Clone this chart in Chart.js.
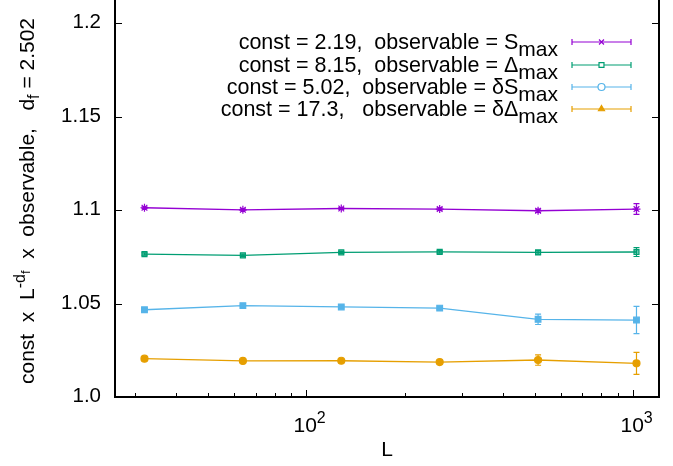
<!DOCTYPE html>
<html><head><meta charset="utf-8">
<script src="https://cdn.jsdelivr.net/npm/chart.js@4/dist/chart.umd.min.js"></script>
<style>html,body{margin:0;padding:0;background:#fff}</style>
</head><body>
<canvas id="c" width="673" height="466"></canvas>
<script>
// System sizes and the rescaled observables with their statistical errors
const sizes = [32, 64, 128, 256, 512, 1024];
const sMax = [1.1013, 1.1002, 1.1009, 1.1006, 1.0997, 1.1006];
const sMaxErr = [0.0005, 0.0005, 0.0005, 0.0006, 0.0009, 0.0029];
const deltaMax = [1.0765, 1.0758, 1.0774, 1.0777, 1.0774, 1.0776];
const deltaMaxErr = [0.0006, 0.0006, 0.0006, 0.0007, 0.0010, 0.0024];
const dSMax = [1.0467, 1.0489, 1.0482, 1.0476, 1.0416, 1.0412];
const dSMaxErr = [0.0006, 0.0006, 0.0006, 0.0007, 0.0028, 0.0073];
const dDeltaMax = [1.0205, 1.0193, 1.0194, 1.0187, 1.0198, 1.0180];
const dDeltaMaxErr = [0.0005, 0.0005, 0.0005, 0.0006, 0.0028, 0.0059];

// Axis ticks
const yTicks = [1.0, 1.05, 1.1, 1.15, 1.2];
const yTickLabels = ['1.0', '1.05', '1.1', '1.15', '1.2'];
const xTicks = [100, 1000];
const xTickExp = ['2', '3'];

// Legend entries: fitted constant and observable name
const legendConsts = ['2.19', '8.15', '5.02', '17.3'];
const legendObs = ['S', '\u0394', '\u03B4S', '\u03B4\u0394'];
const dfValue = '2.502';

const FONT = '"Liberation Sans", Arial, Helvetica, sans-serif';
const colors = ['#9400d3', '#009e73', '#56b4e9', '#e69f00'];
const values = [sMax, deltaMax, dSMax, dDeltaMax];
const errors = [sMaxErr, deltaMaxErr, dSMaxErr, dDeltaMaxErr];
const plotStyles = [
  { pointStyle: 'star', radius: 4, fill: 'transparent' },
  { pointStyle: 'rect', radius: 3.5, fill: 'rgba(0,158,115,0.55)' },
  { pointStyle: 'rect', radius: 4, fill: '#56b4e9' },
  { pointStyle: 'circle', radius: 3.5, fill: '#e69f00' }
];
const keyStyles = ['crossRot', 'rect', 'circle', 'triangle'];
const keyFills = ['#ffffff', '#ffffff', '#ffffff', '#e69f00'];

// Draw a run of text pieces (normal / sub / super) starting at x, baseline y
function richWidth(ctx, parts) {
  let w = 0;
  for (const p of parts) { ctx.font = p.size + 'px ' + FONT; w += ctx.measureText(p.t).width; }
  return w;
}
function drawRich(ctx, parts, x, y) {
  for (const p of parts) {
    ctx.font = p.size + 'px ' + FONT;
    ctx.fillText(p.t, x, y + (p.dy || 0));
    x += ctx.measureText(p.t).width;
  }
}

const datasets = values.map((vals, i) => ({
  label: legendObs[i],
  data: sizes.map((L, j) => ({ x: L, y: vals[j] })),
  borderColor: colors[i],
  backgroundColor: plotStyles[i].fill,
  pointBackgroundColor: plotStyles[i].fill,
  pointBorderColor: colors[i],
  pointBorderWidth: 1.2,
  pointStyle: plotStyles[i].pointStyle,
  pointRadius: plotStyles[i].radius,
  borderWidth: 1.3,
  tension: 0,
  fill: false
}));

const decorations = {
  id: 'decorations',
  afterDatasetsDraw(chart) {
    const ctx = chart.ctx;
    const xs = chart.scales.x, ys = chart.scales.y;
    const a = chart.chartArea;
    ctx.save();

    // error bars
    values.forEach((vals, i) => {
      const meta = chart.getDatasetMeta(i);
      ctx.strokeStyle = colors[i];
      ctx.lineWidth = 1.2;
      vals.forEach((v, j) => {
        const px = meta.data[j].x;
        const y1 = ys.getPixelForValue(v + errors[i][j]);
        const y2 = ys.getPixelForValue(v - errors[i][j]);
        ctx.beginPath();
        ctx.moveTo(px, y1); ctx.lineTo(px, y2);
        ctx.moveTo(px - 3, y1); ctx.lineTo(px + 3, y1);
        ctx.moveTo(px - 3, y2); ctx.lineTo(px + 3, y2);
        ctx.stroke();
      });
    });

    // frame: left, bottom and right borders
    ctx.strokeStyle = '#000';
    ctx.lineWidth = 2;
    ctx.beginPath();
    ctx.moveTo(a.left, a.top); ctx.lineTo(a.left, a.bottom);
    ctx.lineTo(a.right, a.bottom); ctx.lineTo(a.right, a.top);
    ctx.stroke();

    // y ticks (mirrored on the right)
    ctx.lineWidth = 1;
    ctx.fillStyle = '#000';
    ctx.textBaseline = 'middle';
    ctx.textAlign = 'right';
    ctx.font = '20.5px ' + FONT;
    yTicks.forEach((t, k) => {
      const py = Math.round(ys.getPixelForValue(t)) + 0.5;
      ctx.beginPath();
      ctx.moveTo(a.left, py); ctx.lineTo(a.left + 7, py);
      ctx.moveTo(a.right, py); ctx.lineTo(a.right - 7, py);
      ctx.stroke();
      ctx.fillText(yTickLabels[k], 101, py - 1);
    });

    // x ticks: major decades and minor log ticks
    const minor = [];
    for (let d = 10; d <= 1000; d *= 10) for (let m = 2; m <= 9; m++) minor.push(m * d);
    minor.forEach(v => {
      if (v < xs.min || v > xs.max) return;
      const px = Math.round(xs.getPixelForValue(v)) + 0.5;
      ctx.beginPath();
      ctx.moveTo(px, a.bottom); ctx.lineTo(px, a.bottom - 4);
      ctx.stroke();
    });
    ctx.textAlign = 'left';
    ctx.textBaseline = 'alphabetic';
    xTicks.forEach((v, k) => {
      const px = Math.round(xs.getPixelForValue(v)) + 0.5;
      ctx.beginPath();
      ctx.moveTo(px, a.bottom); ctx.lineTo(px, a.bottom - 7);
      ctx.stroke();
      const parts = [{ t: '10', size: 21 }, { t: xTickExp[k], size: 16, dy: -9 }];
      drawRich(ctx, parts, px - 13, 432);
    });

    // axis titles
    ctx.font = '21px ' + FONT;
    ctx.textAlign = 'center';
    ctx.fillText('L', 387, 456);

    ctx.save();
    ctx.translate(34, 201);
    ctx.rotate(-Math.PI / 2);
    ctx.textAlign = 'left';
    const yl = [
      { t: 'const  x  L', size: 21 },
      { t: '-d', size: 16, dy: -9 },
      { t: 'f', size: 13, dy: -4 },
      { t: '  x  observable,   d', size: 21 },
      { t: 'f', size: 16, dy: 5 },
      { t: ' = ' + dfValue, size: 21 }
    ];
    const yw = richWidth(ctx, yl);
    drawRich(ctx, yl, -yw / 2, 0);
    ctx.restore();

    // key
    const keyRows = [42, 65, 87, 109];
    const gaps = ['  ', '  ', '  ', '   '];
    keyRows.forEach((ry, i) => {
      const parts = [
        { t: 'const = ' + legendConsts[i] + ',' + gaps[i] + 'observable = ' + legendObs[i], size: 21.5 },
        { t: 'max', size: 21, dy: 7 }
      ];
      const w = richWidth(ctx, parts);
      ctx.fillStyle = '#000';
      ctx.textAlign = 'left';
      drawRich(ctx, parts, 558 - w, ry + 7);

      ctx.strokeStyle = colors[i];
      ctx.lineWidth = 1.2;
      const x1 = 572, x2 = 631;
      ctx.beginPath();
      ctx.moveTo(x1, ry); ctx.lineTo(x2, ry);
      ctx.moveTo(x1, ry - 3); ctx.lineTo(x1, ry + 3);
      ctx.moveTo(x2, ry - 3); ctx.lineTo(x2, ry + 3);
      ctx.stroke();
      ctx.fillStyle = keyFills[i];
      Chart.helpers.drawPoint(ctx, {
        pointStyle: keyStyles[i], radius: 3.5, borderWidth: 1.2
      }, (x1 + x2) / 2, ry);
    });

    ctx.restore();
  }
};

new Chart(document.getElementById('c'), {
  type: 'line',
  data: { datasets },
  options: {
    responsive: false,
    animation: false,
    layout: { autoPadding: false, padding: { left: 115, right: 14, top: 0, bottom: 69 } },
    plugins: { legend: { display: false }, tooltip: { enabled: false } },
    scales: {
      x: { type: 'logarithmic', min: 26, max: 1200, display: false },
      y: { type: 'linear', min: 1.0, max: 1.2125, display: false }
    }
  },
  plugins: [decorations]
});
</script>
</body></html>
